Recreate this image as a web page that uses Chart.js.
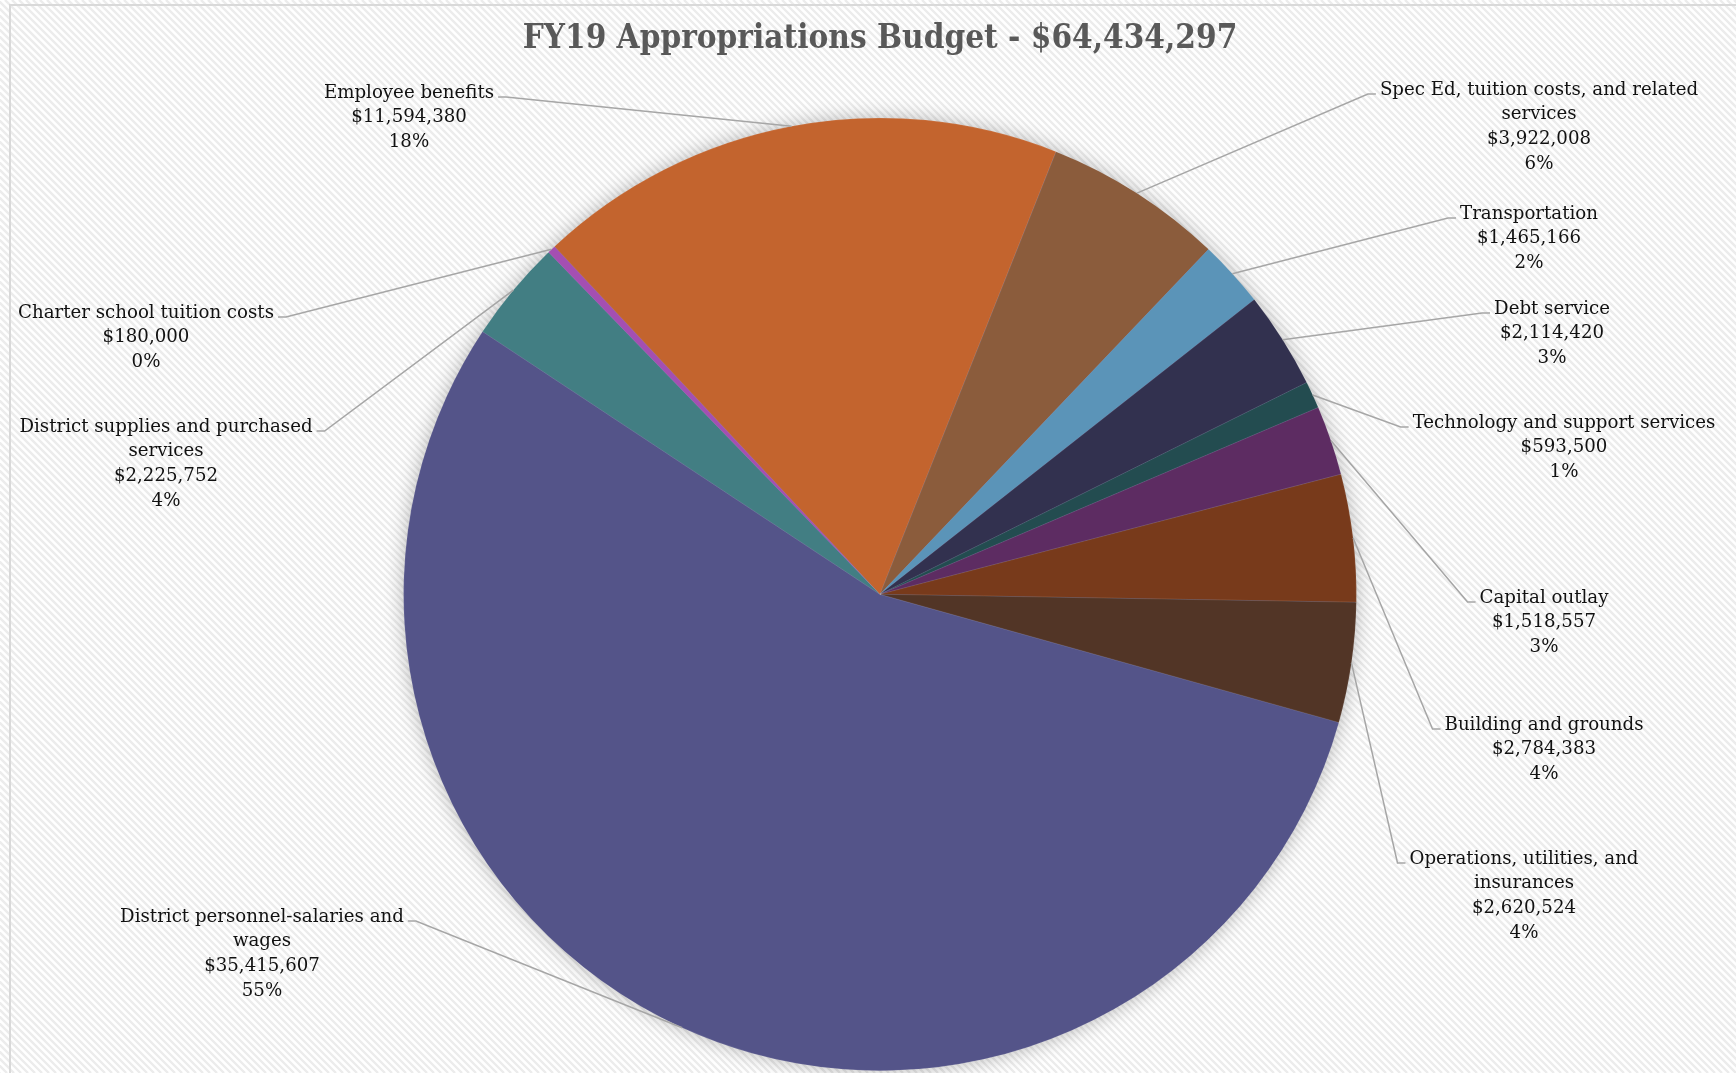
<!DOCTYPE html>
<html>
<head>
<meta charset="utf-8">
<script src="https://cdn.jsdelivr.net/npm/chart.js@4"></script>
<style>
  html, body { margin: 0; padding: 0; background: #fff; }
  #wrap { width: 1736px; height: 1073px; }
</style>
</head>
<body>
<div id="wrap"><canvas id="budget-chart" width="1736" height="1073"></canvas></div>
<script>
// Categorías en el orden de las manecillas del reloj
const categories = [
    ['District personnel-salaries and', 'wages'],
    ['District supplies and purchased', 'services'],
    ['Charter school tuition costs'],
    ['Employee benefits'],
    ['Spec Ed, tuition costs, and related', 'services'],
    ['Transportation'],
    ['Debt service'],
    ['Technology and support services'],
    ['Capital outlay'],
    ['Building and grounds'],
    ['Operations, utilities, and', 'insurances']
];

const amounts = [35415607, 2225752, 180000, 11594380, 3922008, 1465166, 2114420, 593500, 1518557, 2784383, 2620524];

const percentLabels = ['55%', '4%', '0%', '18%', '6%', '2%', '3%', '1%', '3%', '4%', '4%'];

const sliceColors = ['#545489', '#427E83', '#A44FB2', '#C3642E', '#8B5C3C', '#5B94B8', '#32314F', '#234C50', '#5D2C62', '#783A1B', '#523526'];

// Posición de cada etiqueta (centro del texto, primera línea)
const labelAnchors = [
    [262, 917], [166, 427], [146, 313], [409, 93], [1539, 90], [1529, 214],
    [1552, 309], [1564, 423], [1544, 598], [1544, 725], [1524, 859]
];

const labelFont = '18.2px "DejaVu Serif", Georgia, serif';
const lineHeight = 24.7;

// Fondo rayado y marco
const backgroundPlugin = {
    id: 'stripedBackground',
    beforeDraw(chart) {
        const ctx = chart.ctx;
        const w = chart.width, h = chart.height;
        ctx.save();
        ctx.fillStyle = '#ffffff';
        ctx.fillRect(0, 0, w, h);
        ctx.strokeStyle = '#ececec';
        ctx.lineWidth = 2.4;
        for (let x = -h; x < w + h; x += 7) {
            ctx.beginPath();
            ctx.moveTo(x, 0);
            ctx.lineTo(x + h, h);
            ctx.stroke();
        }
        ctx.fillStyle = '#d9d9d9';
        ctx.fillRect(9, 4, w, 2);
        ctx.fillRect(9, 4, 2, h);
        ctx.restore();
    }
};

// Sombra suave detrás del pastel
const shadowPlugin = {
    id: 'pieShadow',
    beforeDatasetsDraw(chart) {
        const arc = chart.getDatasetMeta(0).data[0];
        if (!arc) return;
        const ctx = chart.ctx;
        ctx.save();
        ctx.shadowColor = 'rgba(0,0,0,0.3)';
        ctx.shadowBlur = 20;
        ctx.fillStyle = '#545489';
        ctx.beginPath();
        ctx.arc(arc.x, arc.y, arc.outerRadius - 1, 0, Math.PI * 2);
        ctx.fill();
        ctx.restore();
    }
};

// Etiquetas con líneas guía
const leaderLabelPlugin = {
    id: 'leaderLabels',
    afterDatasetsDraw(chart) {
        const ctx = chart.ctx;
        const meta = chart.getDatasetMeta(0);
        ctx.save();
        ctx.font = labelFont;
        ctx.textAlign = 'center';
        ctx.textBaseline = 'middle';
        meta.data.forEach((arc, i) => {
            const p = arc.getProps(['x', 'y', 'startAngle', 'endAngle', 'outerRadius'], true);
            const mid = (p.startAngle + p.endAngle) / 2;
            const px = p.x + Math.cos(mid) * p.outerRadius;
            const py = p.y + Math.sin(mid) * p.outerRadius;
            const [lx, ly] = labelAnchors[i];
            const lines = [...categories[i], '$' + amounts[i].toLocaleString('en-US'), percentLabels[i]];
            const w = ctx.measureText(lines[0]).width;
            const left = lx < p.x;
            const sx = left ? lx + w / 2 + 4 : lx - w / 2 - 4;
            const sy = ly + 4;
            const stub = left ? sx + 8 : sx - 8;

            ctx.strokeStyle = '#a6a6a6';
            ctx.lineWidth = 1.5;
            ctx.beginPath();
            ctx.moveTo(sx, sy);
            ctx.lineTo(stub, sy);
            ctx.lineTo(px, py);
            ctx.stroke();

            ctx.fillStyle = '#111111';
            lines.forEach((t, k) => ctx.fillText(t, lx, ly + k * lineHeight));
        });
        ctx.restore();
    }
};

const ctx = document.getElementById('budget-chart').getContext('2d');
new Chart(ctx, {
    type: 'pie',
    data: {
        labels: categories,
        datasets: [{
            data: amounts,
            backgroundColor: sliceColors,
            borderColor: 'rgba(255,255,255,0.15)',
            borderWidth: 0.6
        }]
    },
    options: {
        responsive: false,
        animation: false,
        rotation: 105.6,
        layout: {
            padding: { left: 400, right: 376, top: 0, bottom: 2 }
        },
        plugins: {
            legend: { display: false },
            tooltip: { enabled: false },
            title: {
                display: true,
                text: 'FY19 Appropriations Budget - $64,434,297',
                color: '#595959',
                font: { family: '"DejaVu Serif Condensed", "Liberation Serif", serif', size: 33, weight: 'bold', lineHeight: 1.2 },
                padding: { top: 20, bottom: 58 }
            }
        }
    },
    plugins: [backgroundPlugin, shadowPlugin, leaderLabelPlugin]
});
</script>
</body>
</html>
